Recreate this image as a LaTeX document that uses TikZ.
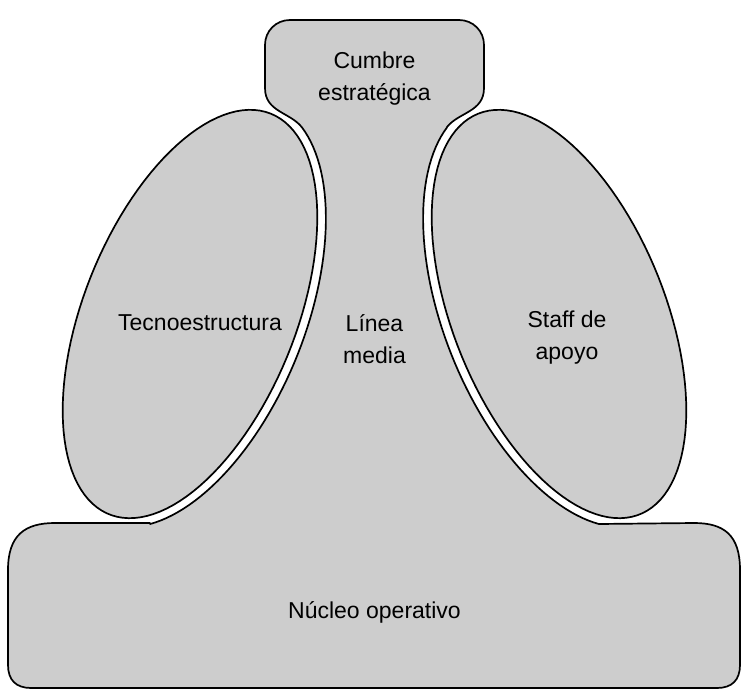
\documentclass[tikz,border=0pt]{standalone}
\usepackage{fontspec}
\setmainfont{Liberation Sans}
\definecolor{fillgray}{RGB}{205,205,205}
\begin{document}
\begin{tikzpicture}[x=1pt,y=-1pt, line width=1.7pt, line join=round,
  region/.style={fill=fillgray, draw=black},
  lbl/.style={font=\fontsize{23}{32}\selectfont, align=center, inner sep=0pt}]
\useasboundingbox (0,0) rectangle (748,691);
% main shape: nucleo operativo + linea media + cumbre estrategica
\draw[region] (8,570) .. controls (8,535) and (25,523) .. (55,523) -- (150,523)
  -- plot[domain=158.7:17.2, samples=60] ({190+84.3*cos(\x)+106.6*sin(\x)},{314-208.6*cos(\x)+43.1*sin(\x)})
  .. controls (290,112) and (265,112) .. (265,88)
  -- (265,45) .. controls (265,31) and (276,20) .. (290,20)
  -- (459,20) .. controls (473,20) and (484,31) .. (484,45)
  -- (484,88) .. controls (484,112) and (459,112) .. (447,127)
  -- plot[domain=17.2:158.7, samples=60] ({559-84.3*cos(\x)-106.6*sin(\x)},{314-208.6*cos(\x)+43.1*sin(\x)})
  -- (694,523) .. controls (724,523) and (740,535) .. (740,570)
  -- (740,665) .. controls (740,680) and (732,688) .. (717,688)
  -- (31,688) .. controls (16,688) and (8,680) .. (8,665) -- cycle;
% tecnoestructura ellipse
\draw[region] plot[domain=0:360, samples=120] ({190+80.9*cos(\x)+98.3*sin(\x)},{314-200.3*cos(\x)+39.7*sin(\x)}) -- cycle;
% staff de apoyo ellipse
\draw[region] plot[domain=0:360, samples=120] ({559-80.9*cos(\x)-98.3*sin(\x)},{314-200.3*cos(\x)+39.7*sin(\x)}) -- cycle;
% labels
\node[lbl] (cumbre) at (374.5,79) {Cumbre\\estratégica};
\node[lbl] (tecno) at (200,323) {Tecnoestructura};
\node[lbl] (linea) at (374.5,339) {Línea\\media};
\node[lbl] (staff) at (567,338) {Staff de\\apoyo};
\node[lbl] (nucleo) at (374.5,612) {Núcleo operativo};
\end{tikzpicture}
\end{document}
